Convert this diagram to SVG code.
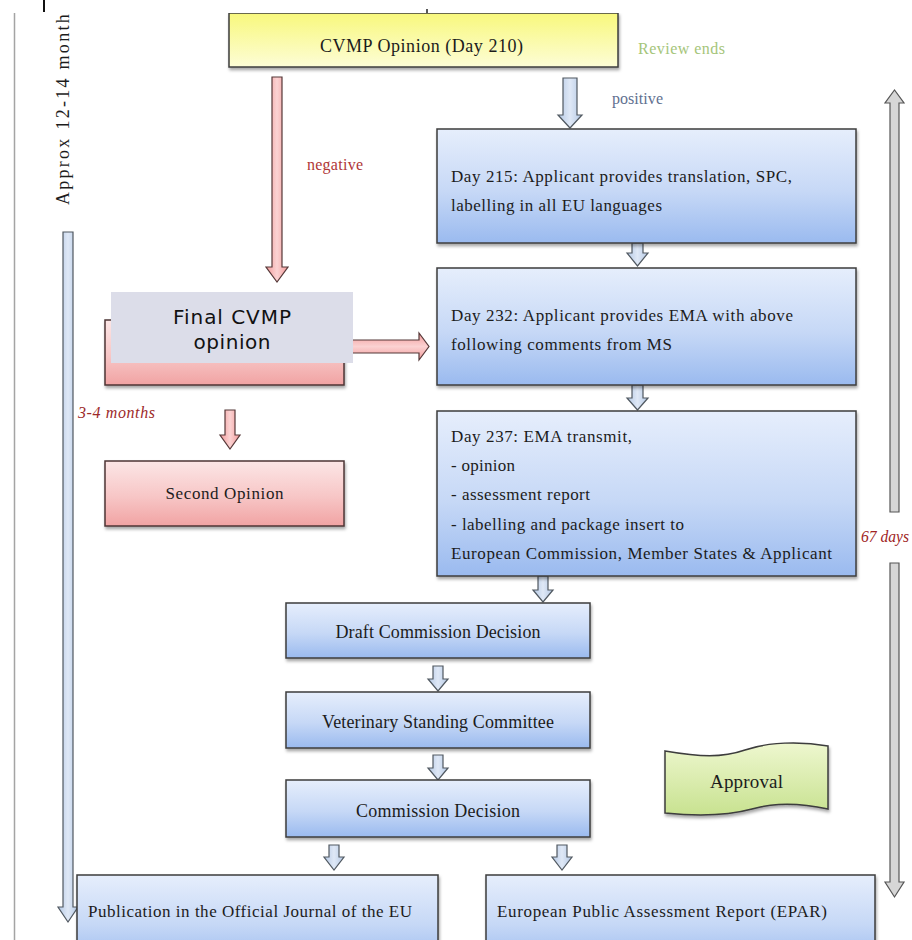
<svg xmlns="http://www.w3.org/2000/svg" width="912" height="940" viewBox="0 0 912 940">
  <style>
    .t { font-family: "Liberation Serif", "Times New Roman", serif; fill: #1c1c1c; }
    .box { stroke: #3c3c3c; stroke-width: 1.5; filter: url(#shadow); }
    .blue { fill: url(#gBlue); }
    .red { fill: url(#gRed); stroke: #4e3434; }
    .conn { fill: url(#gConn); stroke: #505860; stroke-width: 1.2; stroke-linejoin: miter; }
    .rarrow { fill: url(#gRedArrow); stroke: #553838; stroke-width: 1.2; }
    .gray { fill: #d6d6d6; stroke: #555; stroke-width: 1.2; }
    .note { font-family: "Liberation Serif", "Times New Roman", serif; font-size: 16px; }
  </style>
  <defs>
    <linearGradient id="gBlue" x1="0" y1="0" x2="0" y2="1">
      <stop offset="0" stop-color="#e6eefc"/>
      <stop offset="0.55" stop-color="#c6d8f6"/>
      <stop offset="1" stop-color="#9abaef"/>
    </linearGradient>
    <linearGradient id="gRed" x1="0" y1="0" x2="0" y2="1">
      <stop offset="0" stop-color="#fce6e6"/>
      <stop offset="0.55" stop-color="#f7c6c6"/>
      <stop offset="1" stop-color="#f1a3a3"/>
    </linearGradient>
    <linearGradient id="gYellow" x1="0" y1="0" x2="0" y2="1">
      <stop offset="0" stop-color="#f8f87c"/>
      <stop offset="1" stop-color="#fdfdd6"/>
    </linearGradient>
    <linearGradient id="gGreen" x1="0" y1="0" x2="0" y2="1">
      <stop offset="0" stop-color="#eef7cf"/>
      <stop offset="1" stop-color="#c8e290"/>
    </linearGradient>
    <linearGradient id="gConn" x1="0" y1="0" x2="1" y2="0">
      <stop offset="0" stop-color="#b4c8e4"/>
      <stop offset="0.5" stop-color="#dfe8f6"/>
      <stop offset="1" stop-color="#b4c8e4"/>
    </linearGradient>
    <linearGradient id="gRedArrow" x1="0" y1="0" x2="1" y2="0">
      <stop offset="0" stop-color="#f29a9a"/>
      <stop offset="0.5" stop-color="#fbd2d2"/>
      <stop offset="1" stop-color="#f29a9a"/>
    </linearGradient>
    <linearGradient id="gRedArrowH" x1="0" y1="0" x2="0" y2="1">
      <stop offset="0" stop-color="#f29a9a"/>
      <stop offset="0.5" stop-color="#fbd2d2"/>
      <stop offset="1" stop-color="#f29a9a"/>
    </linearGradient>
    <filter id="shadow" x="-5%" y="-10%" width="115%" height="130%">
      <feDropShadow dx="1" dy="2.5" stdDeviation="1.5" flood-color="#000" flood-opacity="0.35"/>
    </filter>
    <clipPath id="page">
      <rect x="0" y="13" width="912" height="927"/>
    </clipPath>
  </defs>

  <rect width="912" height="940" fill="#fff"/>

  <!-- small marks above the page edge -->
  <line x1="44" y1="0" x2="44" y2="12" stroke="#111" stroke-width="2"/>
  <line x1="427" y1="9" x2="427" y2="13" stroke="#222" stroke-width="1.5"/>

  <g clip-path="url(#page)">
    <!-- page border -->
    <line x1="14.5" y1="13" x2="14.5" y2="940" stroke="#a4a4a4" stroke-width="1.5"/>

    <!-- overall duration label -->
    <text class="t" font-size="18" transform="translate(69,205) rotate(-90)" textLength="200" lengthAdjust="spacing">Approx 12-14 months</text>

    <!-- connectors -->
    <g id="connectors">
      <!-- left overall timeline arrow -->
      <path class="conn" d="M63,232 H73 V907 H78 L68,922 L58,907 H63 Z"/>
      <!-- right 67 days span arrow -->
      <path class="gray" d="M890,512 V103 H885 L894.5,90 L904,103 H899 V512 Z"/>
      <path class="gray" d="M890,563 H899 V882 H904 L894.5,897 L885,882 H890 Z"/>
      <!-- positive -->
      <path class="conn" d="M563,78 H577 V115 H582 L570,128 L558,115 H563 Z"/>
      <!-- negative -->
      <path class="rarrow" d="M272,77 H282 V267 H288 L277,282 L266,267 H272 Z"/>
      <!-- appeal to Day 232 -->
      <path fill="url(#gRedArrowH)" stroke="#553838" stroke-width="1.2" d="M344,340 H419 V333 L429,346.5 L419,360 V353 H344 Z"/>
      <!-- 3-4 months to second opinion -->
      <path class="rarrow" d="M225,410 H235 V435 H240 L230,449 L220,435 H225 Z"/>
      <!-- Day 215 to Day 232 -->
      <path class="conn" d="M632,243 H643 V253 H648 L637.5,266 L627,253 H632 Z"/>
      <!-- Day 232 to Day 237 -->
      <path class="conn" d="M632,385 H643 V398 H648 L637.5,410 L627,398 H632 Z"/>
      <!-- Day 237 to draft decision -->
      <path class="conn" d="M538,576 H548 V590 H553 L543,602 L533,590 H538 Z"/>
      <!-- draft to standing committee -->
      <path class="conn" d="M433,666 H443 V679 H448 L438,691 L428,679 H433 Z"/>
      <!-- standing committee to decision -->
      <path class="conn" d="M433,755 H443 V768 H448 L438,780 L428,768 H433 Z"/>
      <!-- decision to publication -->
      <path class="conn" d="M329,845 H339 V857 H344 L334,870 L324,857 H329 Z"/>
      <!-- decision to EPAR -->
      <path class="conn" d="M557,845 H567 V857 H572 L562,870 L552,857 H557 Z"/>
    </g>

    <g id="cvmp-opinion">
      <rect class="box" x="229" y="13" width="389" height="54" fill="url(#gYellow)"/>
      <text class="t" x="421.5" y="52" font-size="18" text-anchor="middle" textLength="203" lengthAdjust="spacing">CVMP Opinion (Day 210)</text>
    </g>

    <g id="labels">
      <text class="note" x="638" y="54" fill="#a5c57a" font-size="17" textLength="87" lengthAdjust="spacing">Review ends</text>
      <text class="note" x="612" y="104" fill="#5f7090" textLength="51" lengthAdjust="spacing">positive</text>
      <text class="note" x="307" y="170" fill="#b03636" textLength="56" lengthAdjust="spacing">negative</text>
      <text class="note" x="78" y="418" fill="#9c2a2a" font-size="17" font-style="italic" textLength="77" lengthAdjust="spacing">3-4 months</text>
      <text class="note" x="861" y="542" fill="#a02424" font-size="17" font-style="italic" textLength="48" lengthAdjust="spacingAndGlyphs">67 days</text>
    </g>

    <g id="day215">
      <rect class="box blue" x="437" y="129" width="419" height="114"/>
      <text class="t" font-size="17" x="451" y="182" textLength="341" lengthAdjust="spacing">Day 215: Applicant provides translation, SPC,</text>
      <text class="t" font-size="17" x="451" y="211" textLength="211" lengthAdjust="spacing">labelling in all EU languages</text>
    </g>

    <g id="day232">
      <rect class="box blue" x="437" y="268" width="419" height="117"/>
      <text class="t" font-size="17" x="451" y="321" textLength="342" lengthAdjust="spacing">Day 232: Applicant provides EMA with above</text>
      <text class="t" font-size="17" x="451" y="350" textLength="221" lengthAdjust="spacing">following comments from MS</text>
    </g>

    <g id="day237">
      <rect class="box blue" x="437" y="411" width="419" height="165"/>
      <text class="t" font-size="17" x="451" y="442" textLength="181" lengthAdjust="spacing">Day 237: EMA transmit,</text>
      <text class="t" font-size="17" x="451" y="471" textLength="64" lengthAdjust="spacing">- opinion</text>
      <text class="t" font-size="17" x="451" y="500" textLength="139" lengthAdjust="spacing">- assessment report</text>
      <text class="t" font-size="17" x="451" y="530" textLength="233" lengthAdjust="spacing">- labelling and package insert to</text>
      <text class="t" font-size="17" x="451" y="559" textLength="381" lengthAdjust="spacing">European Commission, Member States &amp; Applicant</text>
    </g>

    <g id="appeal">
      <rect class="box red" x="105" y="320" width="239" height="65"/>
    </g>

    <g id="final-cvmp-opinion">
      <rect x="111" y="292" width="242" height="71" fill="#dcdde9"/>
      <text x="232" y="324" font-family="'DejaVu Sans', Verdana, sans-serif" font-size="20" fill="#111" text-anchor="middle" textLength="118" lengthAdjust="spacing">Final CVMP</text>
      <text x="232" y="349" font-family="'DejaVu Sans', Verdana, sans-serif" font-size="20" fill="#111" text-anchor="middle" textLength="77" lengthAdjust="spacing">opinion</text>
    </g>

    <g id="second-opinion">
      <rect class="box red" x="105" y="461" width="239" height="65"/>
      <text class="t" font-size="17" x="224.5" y="499" text-anchor="middle" textLength="118" lengthAdjust="spacing">Second Opinion</text>
    </g>

    <g id="draft-decision">
      <rect class="box blue" x="286" y="603" width="304" height="55"/>
      <text class="t" font-size="18" x="438" y="638" text-anchor="middle" textLength="205" lengthAdjust="spacing">Draft Commission Decision</text>
    </g>

    <g id="standing-committee">
      <rect class="box blue" x="286" y="692" width="304" height="56"/>
      <text class="t" font-size="18" x="438" y="728" text-anchor="middle" textLength="232" lengthAdjust="spacing">Veterinary Standing Committee</text>
    </g>

    <g id="commission-decision">
      <rect class="box blue" x="286" y="780" width="304" height="57"/>
      <text class="t" font-size="18" x="438" y="817" text-anchor="middle" textLength="164" lengthAdjust="spacing">Commission Decision</text>
    </g>

    <g id="approval">
      <path class="box" fill="url(#gGreen)" d="M665,751 C700,757 722,758 745,750 C768,742 800,741 828,746 L828,809 C800,803 776,802 752,809 C726,816 695,816 665,813 Z"/>
      <text class="t" font-size="19" x="746.5" y="788" text-anchor="middle" textLength="73" lengthAdjust="spacing">Approval</text>
    </g>

    <g id="publication">
      <rect class="box blue" x="77" y="875" width="361" height="90"/>
      <text class="t" font-size="17" x="88" y="917" textLength="324" lengthAdjust="spacing">Publication in the Official Journal of the EU</text>
    </g>

    <g id="epar">
      <rect class="box blue" x="486" y="875" width="389" height="90"/>
      <text class="t" font-size="17" x="497" y="917" textLength="330" lengthAdjust="spacing">European Public Assessment Report (EPAR)</text>
    </g>
  </g>
</svg>
